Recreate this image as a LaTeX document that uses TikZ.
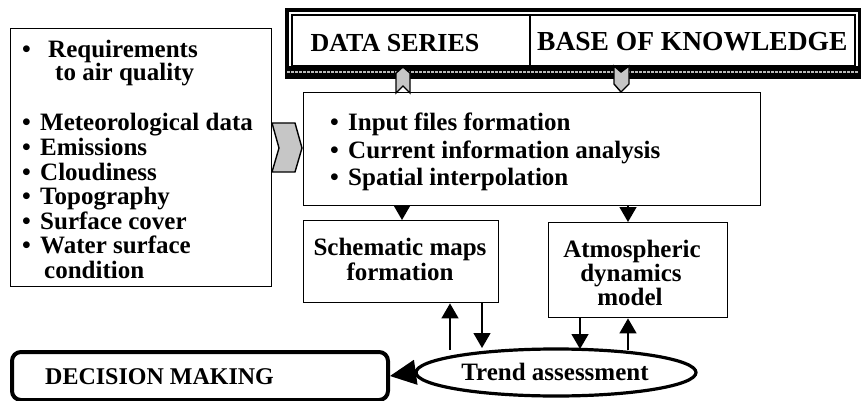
\documentclass[tikz,border=0pt]{standalone}
\usepackage{fontspec}
\setmainfont{Liberation Serif}
\usetikzlibrary{arrows.meta,shapes.geometric}
\begin{document}
\begin{tikzpicture}[x=1pt,y=-1pt,
  box/.style={draw,line width=1.4pt,anchor=north west,inner sep=0pt},
  txt/.style={font=\bfseries\fontsize{25}{25}\selectfont,inner sep=0pt},
  lw/.style={txt,anchor=base west},
  arr/.style={line width=1.4pt,-{Triangle[width=17pt,length=15pt]}},
  chev/.style={draw,line width=1.4pt,fill=gray!45}]
\useasboundingbox (0,0) rectangle (862,401);
% top frame
\fill[black] (285,8) rectangle (861,79);
\fill[white] (289,12) rectangle (858,66);
\draw[line width=1.6pt] (292,15) rectangle (855,66);
\draw[gray!55,line width=1.5pt,dash pattern=on 3pt off 1pt] (287,72) -- (859,72);
\coordinate (divtop) at (530,15);
\coordinate (divbot) at (530,66);
\draw[line width=1.4pt] (divtop) -- (divbot);
\node[txt,anchor=base,font=\bfseries\fontsize{26}{26}\selectfont] (ds) at (395,52) {DATA SERIES};
\node[txt,anchor=base west,font=\bfseries\fontsize{27.5}{27.5}\selectfont] (bk) at (537,51) {BASE OF KNOWLEDGE};
% left box
\node[box,minimum width=261pt,minimum height=258pt] (inputs) at (10,28) {};
\node[lw] (b1) at (22,58) {•};
\node[lw] (l1) at (48,58) {Requirements};
\node[lw] (l2) at (55,81) {to air quality};
\node[lw] (b3) at (22,131) {•};
\node[lw] (l3) at (40,131) {Meteorological data};
\node[lw] (b4) at (22,155.5) {•};
\node[lw] (l4) at (40,155.5) {Emissions};
\node[lw] (b5) at (22,180) {•};
\node[lw] (l5) at (40,180) {Cloudiness};
\node[lw] (b6) at (22,204.5) {•};
\node[lw] (l6) at (40,204.5) {Topography};
\node[lw] (b7) at (22,229) {•};
\node[lw] (l7) at (40,229) {Surface cover};
\node[lw] (b8) at (22,253.5) {•};
\node[lw] (l8) at (40,253.5) {Water surface};
\node[lw] (l9) at (44,278) {condition};
% middle box
\node[box,minimum width=457pt,minimum height=113pt] (proc) at (303,92) {};
\node[lw] (pb1) at (330,131) {•};
\node[lw] (p1) at (348,131) {Input files formation};
\node[lw] (pb2) at (330,158) {•};
\node[lw] (p2) at (348,158) {Current information analysis};
\node[lw] (pb3) at (330,185) {•};
\node[lw] (p3) at (348,185) {Spatial interpolation};
% lower boxes
\node[box,minimum width=195pt,minimum height=82pt] (maps) at (303,220) {};
\node[txt,anchor=base] (m1t) at (400,255) {Schematic maps};
\node[txt,anchor=base] (m2t) at (400,280) {formation};
\node[box,minimum width=179pt,minimum height=95pt] (atm) at (548,222) {};
\node[txt,anchor=base] (a1t) at (632,257) {Atmospheric};
\node[txt,anchor=base] (a2t) at (631,281) {dynamics};
\node[txt,anchor=base] (a3t) at (630,305) {model};
% ellipse
\node[draw,ellipse,line width=3.2pt,minimum width=280pt,minimum height=47pt,inner sep=0pt] (trend) at (556,372.5) {};
\node[txt,anchor=base] (trendtxt) at (555,380) {Trend assessment};
% decision
\node[draw,rounded corners=9pt,line width=4pt,minimum width=376pt,minimum height=48pt,anchor=north west,inner sep=0pt] (dec) at (10,350) {};
\node[txt,anchor=base west,font=\bfseries\fontsize{24}{24}\selectfont] (dectxt) at (45,384) {DECISION MAKING};
% chevrons
\filldraw[chev] (396,73) -- (403,67) -- (410,73) -- (410,93) -- (403,86) -- (396,93) -- cycle;
\filldraw[chev] (614,66) -- (621,72) -- (629,66) -- (629,84) -- (621,92) -- (614,84) -- cycle;
\filldraw[chev] (272,123) -- (295,123) -- (302,148) -- (295,172) -- (272,172) -- (279,148) -- cycle;
% arrows
\coordinate (pa) at (402,205);
\coordinate (pb) at (628,205);
\draw[arr] (pa) -- (pa |- maps.north);
\draw[arr] (pb) -- (pb |- atm.north);
\coordinate (s1) at (450,350);
\draw[arr] (s1) -- (s1 |- maps.south);
\coordinate (s2) at (482,302);
\draw[arr] (s2) -- (482,348);
\coordinate (t1) at (580,317);
\draw[arr] (t1) -- (580,349);
\coordinate (t2) at (628,350);
\draw[arr] (t2) -- (t2 |- atm.south);
\draw[line width=1.4pt,-{Triangle[width=25pt,length=26pt]}] (trend.west) -- (dec.east);
\end{tikzpicture}
\end{document}
